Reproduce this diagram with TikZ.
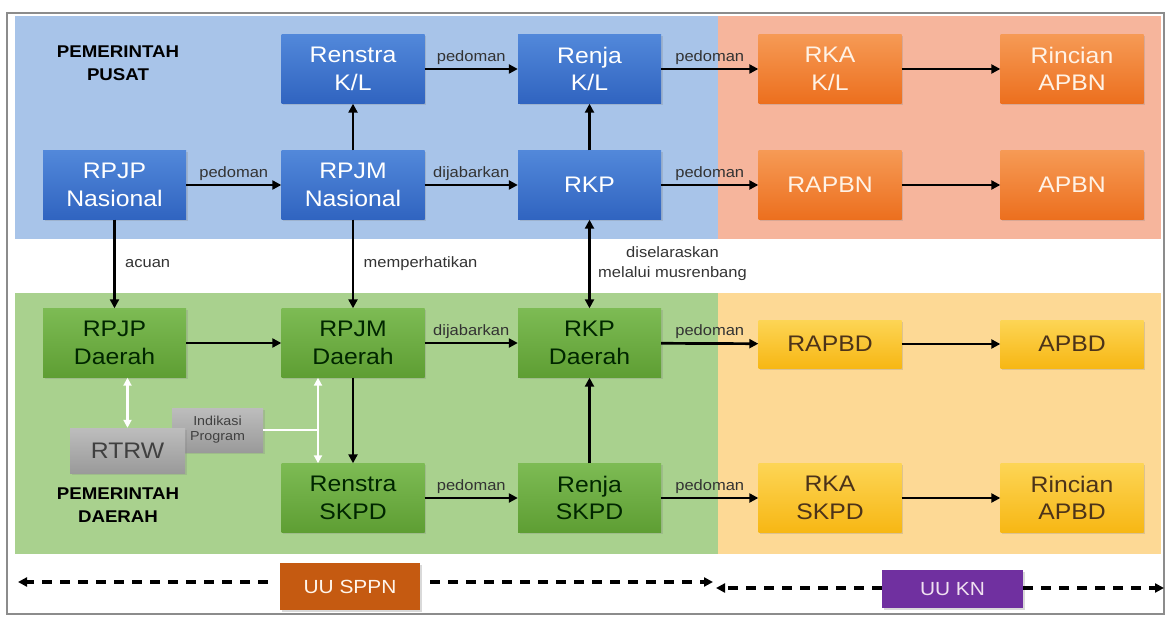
\documentclass[tikz,border=0pt]{standalone}
\usepackage{fontspec}
\setmainfont[FakeStretch=1.1]{Liberation Sans}
\usepackage{tikz}
\usetikzlibrary{arrows.meta, positioning, calc, shadows}

\definecolor{panelbiru}{HTML}{A8C4E9}
\definecolor{paneloranye}{HTML}{F6B59C}
\definecolor{panelhijau}{HTML}{A9D18E}
\definecolor{panelkuning}{HTML}{FDD995}
\definecolor{birutop}{HTML}{5288DA}
\definecolor{birubot}{HTML}{3064C0}
\definecolor{oranyetop}{HTML}{F69A55}
\definecolor{oranyebot}{HTML}{EC6F1E}
\definecolor{hijautop}{HTML}{7DBB54}
\definecolor{hijaubot}{HTML}{5E9E33}
\definecolor{kuningtop}{HTML}{FDD555}
\definecolor{kuningbot}{HTML}{F7B714}
\definecolor{abutop}{HTML}{BDBDBD}
\definecolor{abubot}{HTML}{9A9A9A}
\definecolor{sppn}{HTML}{C55A11}
\definecolor{kn}{HTML}{7030A0}

\begin{document}
\begin{tikzpicture}[x=1pt, y=-1pt,
    blok/.style={rectangle, minimum width=143pt, minimum height=69pt, inner sep=2pt,
        align=center, font=\fontsize{22.5}{27.5}\selectfont,
        drop shadow={opacity=0.25, shadow xshift=1.5pt, shadow yshift=-1.5pt}},
    biru/.style={blok, top color=birutop, bottom color=birubot, text=white},
    oranye/.style={blok, top color=oranyetop, bottom color=oranyebot, text=orange!10},
    hijau/.style={blok, top color=hijautop, bottom color=hijaubot, text=green!15!black},
    kuning/.style={blok, top color=kuningtop, bottom color=kuningbot, text=brown!40!black},
    abu/.style={blok, top color=abutop, bottom color=abubot, text=black!75},
    judul/.style={align=center, font=\bfseries\fontsize{17}{23}\selectfont},
    ket/.style={font=\fontsize{15}{20}\selectfont, text=black!80},
    panah/.style={-{Triangle[length=9pt,width=9pt]}, line width=2.7pt, black},
    panahputih/.style={{Triangle[length=8pt,width=8pt]}-{Triangle[length=8pt,width=8pt]}, line width=2.5pt, white},
    uu/.style={rectangle, minimum width=140pt, font=\fontsize{19}{22}\selectfont,
        drop shadow={opacity=0.3, shadow xshift=1.5pt, shadow yshift=-1.5pt}},
    putus/.style={line width=3.5pt, dash pattern=on 10pt off 8pt, black}]

\useasboundingbox (0,0) rectangle (1166,620);

% Frame and panels
\draw[black!45, line width=1.5pt] (7,13) rectangle (1164,614);
\fill[panelbiru] (15,16) rectangle (718,239);
\fill[paneloranye] (718,16) rectangle (1161,239);
\fill[panelhijau] (15,293) rectangle (718,554);
\fill[panelkuning] (718,293) rectangle (1161,554);

% Pemerintah pusat
\node[judul] (pusat) at (118,63) {PEMERINTAH\\PUSAT};
\node[biru] (renstrakl) at (353,69) {Renstra\\K/L};
\node[biru] (renjakl) at (589.5,69) {Renja\\K/L};
\node[biru] (rpjpn) at (114.5,185) {RPJP\\Nasional};
\node[biru] (rpjmn) at (353,185) {RPJM\\Nasional};
\node[biru] (rkp) at (589.5,185) {RKP};
\node[oranye] (rkakl) at (830,69) {RKA\\K/L};
\node[oranye] (rincianapbn) at (1072,69) {Rincian\\APBN};
\node[oranye] (rapbn) at (830,185) {RAPBN};
\node[oranye] (apbn) at (1072,185) {APBN};

% Pemerintah daerah
\node[hijau] (rpjpd) at (114.5,343) {RPJP\\Daerah};
\node[hijau] (rpjmd) at (353,343) {RPJM\\Daerah};
\node[hijau] (rkpd) at (589.5,343) {RKP\\Daerah};
\node[kuning, minimum height=48pt] (rapbd) at (830,344) {RAPBD};
\node[kuning, minimum height=48pt] (apbd) at (1072,344) {APBD};
\node[hijau] (renstraskpd) at (353,498) {Renstra\\SKPD};
\node[hijau] (renjaskpd) at (589.5,498) {Renja\\SKPD};
\node[kuning] (rkaskpd) at (830,498) {RKA\\SKPD};
\node[kuning] (rincianapbd) at (1072,498) {Rincian\\APBD};
\node[abu, minimum width=91pt, minimum height=44pt, font=\fontsize{13}{15}\selectfont] (indikasi) at (217.5,430) {Indikasi\\Program};
\node[abu, minimum width=115pt, minimum height=45pt] (rtrw) at (127.5,450.5) {RTRW};
\node[judul] (daerah) at (118,505) {PEMERINTAH\\DAERAH};

% Horizontal flows
\foreach \a/\b in {rpjpn/rpjmn, renstrakl/renjakl, renjakl/rkakl, rkp/rapbn,
                   rkpd/rapbd, renstraskpd/renjaskpd, renjaskpd/rkaskpd} {
    \draw[panah] (\a) -- node[ket, above] {pedoman} (\b);
}
\foreach \a/\b in {rpjmn/rkp, rpjmd/rkpd} {
    \draw[panah] (\a) -- node[ket, above] {dijabarkan} (\b);
}
\foreach \a/\b in {rkakl/rincianapbn, rapbn/apbn, rapbd/apbd, rkaskpd/rincianapbd, rpjpd/rpjmd} {
    \draw[panah] (\a) -- (\b);
}

% Vertical flows
\foreach \a/\b in {rpjmn/renstrakl, rkp/renjakl, renjaskpd/rkpd, rpjmd/renstraskpd} {
    \draw[panah] (\a) -- (\b);
}
\draw[panah] (rpjpn) -- node[ket, right=6pt] {acuan} (rpjpd);
\draw[panah] (rpjmn) -- node[ket, right=6pt] {memperhatikan} (rpjmd);
\draw[panah, {Triangle[length=9pt,width=9pt]}-{Triangle[length=9pt,width=9pt]}] (rkp) --
    node[ket, right=4pt, align=center] {diselaraskan\\melalui musrenbang} (rkpd);

% RTRW links
\coordinate (cabangatas) at ($(rpjmd.south)+(-35,0)$);
\coordinate (cabangbawah) at ($(renstraskpd.north)+(-35,0)$);
\draw[panahputih] (rtrw.north) -- (rtrw.north |- rpjpd.south);
\draw[panahputih] (cabangatas) -- (cabangbawah);
\draw[white, line width=2.5pt] (indikasi.east) -- (indikasi.east -| cabangatas);

% Undang-undang
\node[uu, fill=sppn, minimum height=47pt, text=orange!8] (uusppn) at (350,586.5) {UU SPPN};
\node[uu, fill=kn, minimum height=38pt, minimum width=141pt, text=violet!12] (uukn) at (952.5,589) {UU KN};
\coordinate (sppnkiri) at (18,582);
\coordinate (sppnkanan) at (713,582);
\coordinate (knkiri) at (716,588);
\coordinate (knkanan) at (1164,588);
\draw[putus, -{Triangle[length=9pt,width=9pt]}] ([xshift=-12pt]uusppn.west |- sppnkiri) -- (sppnkiri);
\draw[putus, -{Triangle[length=9pt,width=9pt]}] ([xshift=10pt]uusppn.east |- sppnkanan) -- (sppnkanan);
\draw[putus, -{Triangle[length=9pt,width=9pt]}] (uukn.west |- knkiri) -- (knkiri);
\draw[putus, -{Triangle[length=9pt,width=9pt]}] (uukn.east |- knkanan) -- (knkanan);
\end{tikzpicture}
\end{document}
